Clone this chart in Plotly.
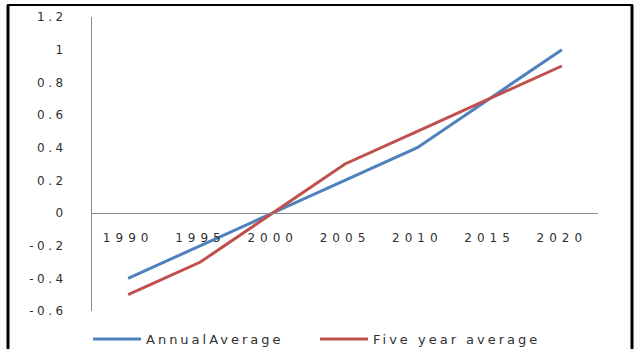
import plotly.graph_objects as go

years = ["1990", "1995", "2000", "2005", "2010", "2015", "2020"]
annual_average = [-0.4, -0.2, 0.0, 0.2, 0.4, 0.7, 1.0]
five_year_average = [-0.5, -0.3, 0.0, 0.3, 0.5, 0.7, 0.9]
y_ticks = [-0.6, -0.4, -0.2, 0, 0.2, 0.4, 0.6, 0.8, 1, 1.2]
y_tick_labels = ["-0.6", "-0.4", "-0.2", "0", "0.2", "0.4", "0.6", "0.8", "1", "1.2"]

W, H = 639, 349
L, R, T, B = 92, 598, 17, 311

fig = go.Figure()
fig.add_trace(go.Scatter(x=years, y=annual_average, mode="lines", name="AnnualAverage",
                         line=dict(color="#4F81BD", width=3)))
fig.add_trace(go.Scatter(x=years, y=five_year_average, mode="lines", name="Five year average",
                         line=dict(color="#C0504D", width=3)))

def px_x(p):
    return (p - L) / (R - L)

def px_y(p):
    return (B - p) / (B - T)

frame = dict(color="black", width=3)
shapes = [
    dict(type="line", xref="paper", yref="paper", x0=px_x(8), x1=px_x(8), y0=px_y(5), y1=px_y(360), line=frame),
    dict(type="line", xref="paper", yref="paper", x0=px_x(632), x1=px_x(632), y0=px_y(5), y1=px_y(360), line=frame),
    dict(type="line", xref="paper", yref="paper", x0=px_x(7), x1=px_x(633), y0=px_y(5), y1=px_y(5), line=dict(color="black", width=2)),
]

fig.update_layout(
    width=W, height=H,
    margin=dict(l=L, r=W - R, t=T, b=H - B, autoexpand=False),
    paper_bgcolor="white", plot_bgcolor="white",
    font=dict(family="DejaVu Sans", size=11, color="#404040"),
    showlegend=True,
    legend=dict(orientation="h", xref="container", yref="container",
                x=88 / W, xanchor="left", y=1 - 324 / H, yanchor="top",
                font=dict(family="DejaVu Sans", size=13, color="#303030"),
                itemwidth=48, entrywidth=164),
    shapes=shapes,
    xaxis=dict(type="category", range=[-0.5, 6.5], anchor="free", position=1/3,
               showline=True, linecolor="#8c8c8c", linewidth=1, showgrid=False, zeroline=False,
               ticks="", ticklabelstandoff=14,
               tickfont=dict(family="DejaVu Sans", size=12, color="#303030")),
    yaxis=dict(range=[-0.6, 1.2], tickvals=y_ticks, ticktext=y_tick_labels,
               showline=True, linecolor="#8c8c8c", linewidth=1, showgrid=False, zeroline=False,
               ticks="", ticklabelstandoff=22,
               tickfont=dict(family="DejaVu Sans", size=12, color="#303030")),
)

post = """
var gd = document.getElementById('{plot_id}');
gd.querySelectorAll('.xtick text').forEach(function(e){e.style.letterSpacing='5px';});
gd.querySelectorAll('.ytick text').forEach(function(e){e.style.letterSpacing='3.5px';});
gd.querySelectorAll('.legendtext').forEach(function(e){e.style.letterSpacing='3px';});
"""

fig.write_html("out.html", post_script=post)
